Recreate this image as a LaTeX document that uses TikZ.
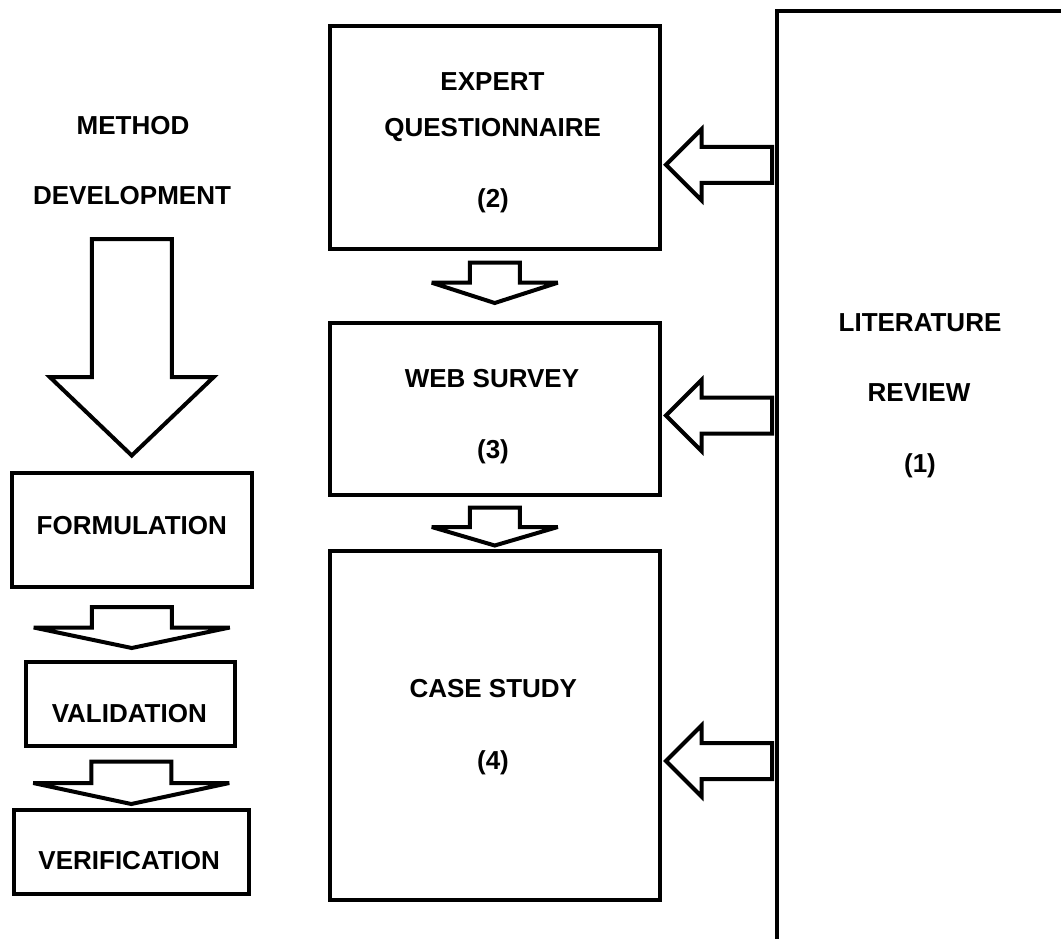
\documentclass[tikz,border=0pt]{standalone}
\usepackage{fontspec}
\setmainfont{Liberation Sans}
\usetikzlibrary{calc}

\tikzset{
  box/.style={draw=black, line width=4pt, inner sep=0pt, outer sep=0pt, anchor=north west},
  blk/.style={draw=black, fill=white, line width=4pt, miter limit=5},
  lbl/.style={anchor=base, inner sep=0pt, outer sep=0pt, font=\fontsize{26}{30}\selectfont\bfseries},
}

% hollow block arrow pointing down: #1 node giving the centre line,
% #2 top of shaft, #3 base of head, #4 tip, #5 half shaft width, #6 half head width
\newcommand\downblock[6]{%
  \draw[blk] let \p1=(#1.south), \p2=(0,#2), \p3=(0,#3), \p4=(0,#4) in
    (\x1-#5pt,\y2) -- (\x1+#5pt,\y2) -- (\x1+#5pt,\y3) -- (\x1+#6pt,\y3)
    -- (\x1,\y4) -- (\x1-#6pt,\y3) -- (\x1-#5pt,\y3) -- cycle;}

% hollow block arrow pointing left from #2 to #1 at height #3
\newcommand\leftblock[3]{%
  \draw[blk] let \p1=(#1.east), \p2=(#2.west), \p3=(0,#3) in
    (\x1+6pt,\y3) -- (\x1+41.5pt,\y3-35.5pt) -- (\x1+41.5pt,\y3-18pt)
    -- (\x2-4.5pt,\y3-18pt) -- (\x2-4.5pt,\y3+18pt) -- (\x1+41.5pt,\y3+18pt)
    -- (\x1+41.5pt,\y3+35.5pt) -- cycle;}

\begin{document}
\begin{tikzpicture}[x=1pt,y=-1pt]
\path[use as bounding box, clip] (0,0) rectangle (1061,938);
\fill[white] (0,0) rectangle (1061,938);

% boxes
\node[box, minimum width=290, minimum height=940] (lit) at (776.5,11) {};
\node[box, minimum width=330.5, minimum height=223] (exp) at (329.5,26) {};
\node[box, minimum width=330.5, minimum height=171.5] (web) at (329.5,323) {};
\node[box, minimum width=330.5, minimum height=349.5] (case) at (329.5,550.5) {};
\node[box, minimum width=240.5, minimum height=114.5] (form) at (11.5,472.5) {};
\node[box, minimum width=209, minimum height=83.5] (valid) at (26,662) {};
\node[box, minimum width=234.5, minimum height=84] (verif) at (14,809.5) {};

% labels
\node[lbl] (tmethod) at (133,134.3) {METHOD};
\node[lbl] (tdev) at (132,204.3) {DEVELOPMENT};
\node[lbl] (texp) at (492.5,90.3) {EXPERT};
\node[lbl] (tques) at (492.7,136) {QUESTIONNAIRE};
\node[lbl] (tn2) at (493,207) {(2)};
\node[lbl] (tweb) at (492,387.1) {WEB SURVEY};
\node[lbl] (tn3) at (493,458.8) {(3)};
\node[lbl] (tcase) at (493.3,697.1) {CASE STUDY};
\node[lbl] (tn4) at (493,769.3) {(4)};
\node[lbl] (tlit) at (920,331.3) {LITERATURE};
\node[lbl] (trev) at (919,401.3) {REVIEW};
\node[lbl] (tn1) at (920,472.3) {(1)};
\node[lbl] (tform) at (131.8,534.3) {FORMULATION};
\node[lbl] (tvalid) at (129.3,722.6) {VALIDATION};
\node[lbl] (tverif) at (129.2,869.3) {VERIFICATION};

% downward block arrows
\downblock{form}{239}{377}{455.5}{40}{82}
\downblock{form}{607}{627.5}{648}{40}{98}
\downblock{verif}{761.5}{783}{804}{40}{98}
\downblock{exp}{262.5}{282.7}{303}{25}{63}
\downblock{web}{507.5}{527}{545.5}{25}{63}

% block arrows from the literature review
\leftblock{exp}{lit}{164.75}
\leftblock{web}{lit}{415.5}
\leftblock{case}{lit}{761}
\end{tikzpicture}
\end{document}
